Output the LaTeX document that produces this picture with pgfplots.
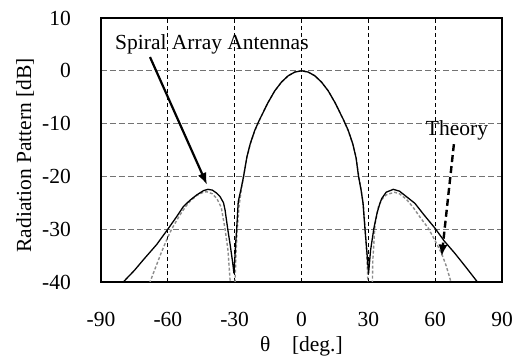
\documentclass[border=0pt]{standalone}
\usepackage{fontspec}
\setmainfont{Liberation Serif}
\usepackage{pgfplots}
\pgfplotsset{compat=1.18}
\usetikzlibrary{arrows.meta}
\newcommand{\bigf}{\fontsize{21.5}{24}\selectfont}
\begin{document}
\bigf
\begin{tikzpicture}
\useasboundingbox (-101pt,-76pt) rectangle (416pt,282pt);
\begin{axis}[
  at={(0pt,0pt)}, anchor=south west,
  scale only axis, width=401pt, height=264pt,
  xmin=-90, xmax=90, ymin=-40, ymax=10,
  xtick={-90,-60,-30,0,30,60,90}, xticklabels={-90,-60,-30,0,30,60,90},
  ytick={-40,-30,-20,-10,0,10}, yticklabels={-40,-30,-20,-10,0,10},
  major tick length=0pt,
  xmajorgrids, ymajorgrids,
  x grid style={black, line width=0.7pt, dash pattern=on 4pt off 3pt},
  y grid style={black!55, line width=1pt, dash pattern=on 6pt off 3pt},
  axis line style={line width=1.4pt},
  xticklabel style={font=\bigf, anchor=north, inner sep=0pt, yshift=-30pt},
  yticklabel style={font=\bigf, anchor=east, inner sep=0pt, xshift=-30pt},
  xlabel={θ\quad[deg.]},
  ylabel={Radiation Pattern [dB]},
  every axis x label/.style={at={(axis description cs:0.5,-0.265)}, anchor=base, font=\bigf},
  every axis y label/.style={at={(axis description cs:-0.1895,0.48)}, anchor=center, rotate=90, font=\bigf},
]
% Theory (gray dashed)
\addplot[gray!90, line width=1.4pt, dash pattern=on 3pt off 2pt] coordinates {
(-70,-43) (-68,-40) (-65,-36.7) (-63,-34.5) (-60,-31.5) (-58.3,-30) (-55,-27.6)
(-52,-25.7) (-50,-24.7) (-47,-23.6) (-44,-23.0) (-42.5,-22.9) (-40,-23.3)
(-38,-24.2) (-36,-25.9) (-34.3,-30) (-33,-34) (-32,-40) (-31,-60)
(-30,-42) (-29.5,-36) (-29,-31) (-28,-25.5) (-27,-22.5) (-26,-20) (-24.5,-16.4)
(-23,-13.9) (-21,-11.4) (-19,-9.5) (-17,-7.7) (-15,-6.0) (-12,-3.8) (-9,-2.15)
(-6,-0.95) (-3,-0.24) (0,0) (3,-0.24) (6,-0.95) (9,-2.15) (12,-3.8) (15,-6.0)
(17,-7.7) (19,-9.5) (21,-11.4) (23,-13.9) (24.5,-16.4) (25.7,-20) (26.8,-22.5)
(27.8,-25.5) (28.6,-30) (29.4,-36) (30,-42) (31,-60)
(32,-36) (33,-29) (34.5,-25.8) (36,-24.4) (38,-23.5) (41.7,-23.0) (44,-23.3)
(47,-24.3) (50,-25.8) (53,-27.6) (56.9,-29.8) (60,-32.2) (62.9,-34.6)
(65,-37) (67.1,-40) (68,-42)
};
% Measured (black solid)
\addplot[black, line width=1.3pt] coordinates {
(-82,-41.5) (-80,-40) (-75,-37.8) (-71,-35.8) (-65,-32.9) (-60,-30) (-56,-27.6)
(-53,-25.7) (-50,-24.5) (-47,-23.5) (-44,-22.7) (-42,-22.45) (-40,-22.6)
(-38,-23.2) (-36.6,-23.8) (-35,-25) (-34.3,-26.4) (-33.1,-30) (-32,-33)
(-31,-36) (-30.3,-38.4) (-29.6,-33) (-29.1,-30) (-28.4,-24.8) (-27.2,-22.5)
(-26,-20) (-24.5,-16.3) (-23,-13.8) (-21,-11.3) (-19,-9.4) (-17,-7.7)
(-15,-6.0) (-12,-3.8) (-9,-2.15) (-6,-0.95) (-3,-0.24) (0,0) (3,-0.24)
(6,-0.95) (9,-2.15) (12,-3.8) (15,-6.0) (17,-7.7) (19,-9.4) (21,-11.3)
(23,-13.8) (24.5,-16.5) (25.6,-20) (26.7,-22.5) (27.6,-25) (28.5,-30) (29.3,-34)
(30.1,-38.4) (31,-34) (32.5,-29.8) (34,-26.8) (35.2,-25.1) (36,-24.2)
(38,-23.0) (41.2,-22.45) (44,-22.8) (47,-23.8) (50.9,-25.1) (55,-27.3)
(59.9,-29.8) (64,-32.2) (68.9,-34.6) (74,-37.3) (78.6,-39.8) (80,-40.6)
};
\node[font=\bigf, anchor=center] at (axis cs:-40.2,5.1) {Spiral Array Antennas};
\draw[line width=2.2pt, -{Latex[length=12pt,width=9pt]}] (axis cs:-68,2.6) -- (axis cs:-42.4,-21.6);
\node[font=\bigf, anchor=center] at (axis cs:69.8,-11.2) {Theory};
\draw[line width=2.4pt, dash pattern=on 7pt off 4pt, -{Latex[length=12pt,width=9pt]}] (axis cs:68.4,-13.9) -- (axis cs:62.9,-35.2);
\end{axis}
\end{tikzpicture}
\end{document}
